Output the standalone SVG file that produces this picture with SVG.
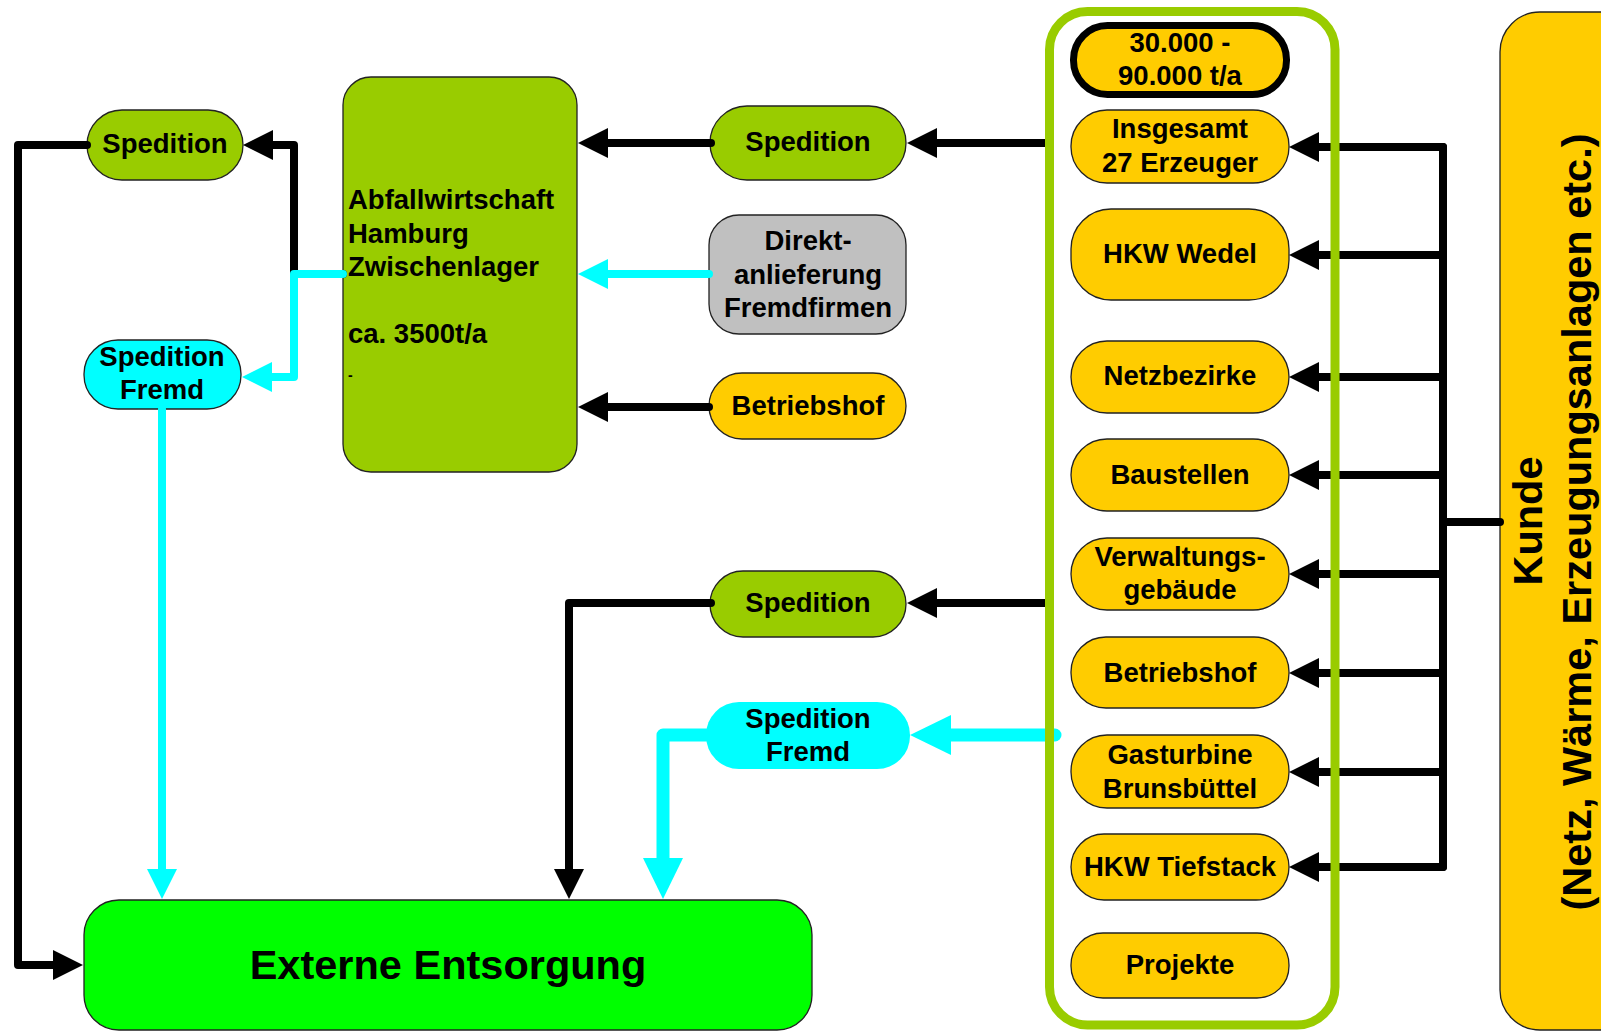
<svg xmlns="http://www.w3.org/2000/svg" width="1601" height="1031" viewBox="0 0 1601 1031">
<style>
text{font-family:"Liberation Sans",Arial,sans-serif;font-weight:bold;fill:#000;}
.t{font-size:27.5px;text-anchor:middle;}
.tl{font-size:27.5px;text-anchor:start;}
.big{font-size:41.5px;text-anchor:middle;}
.nb{stroke:#222;stroke-width:1.3;}
.green{fill:#99CC00;}
.orange{fill:#FFCC00;}
.cyan{fill:#00FFFF;}
.gray{fill:#C0C0C0;}
.lime{fill:#00FF00;}
.cb{fill:none;stroke:#000;stroke-width:8;stroke-linecap:round;stroke-linejoin:round;}
.cc{fill:none;stroke:#00FFFF;stroke-width:8;stroke-linecap:round;stroke-linejoin:round;}
.ccw{fill:none;stroke:#00FFFF;stroke-width:13;stroke-linecap:round;stroke-linejoin:round;}
</style>
<defs>
<marker id="ab" markerUnits="userSpaceOnUse" markerWidth="31" markerHeight="31" refX="0" refY="15" orient="auto" overflow="visible"><path d="M0,0 L30,15 L0,30 z" fill="#000"/></marker>
<marker id="ac" markerUnits="userSpaceOnUse" markerWidth="31" markerHeight="31" refX="0" refY="15" orient="auto" overflow="visible"><path d="M0,0 L30,15 L0,30 z" fill="#00FFFF"/></marker>
<marker id="acw" markerUnits="userSpaceOnUse" markerWidth="42" markerHeight="41" refX="0" refY="20" orient="auto" overflow="visible"><path d="M0,0 L41,20 L0,40 z" fill="#00FFFF"/></marker>
</defs>
<rect width="1601" height="1031" fill="#fff"/>

<g id="kunde">
<rect x="1500" y="12" width="170" height="1018" rx="40" class="orange nb"/>
<text class="big" transform="translate(1542,521) rotate(-90)">Kunde</text>
<text class="big" transform="translate(1591,522) rotate(-90)">(Netz, Wärme, Erzeugungsanlagen etc.)</text>
</g>

<g id="spedition-left">
<rect x="87" y="110" width="156" height="70" rx="35" class="green nb"/>
<text class="t" x="165" y="153">Spedition</text>
</g>
<g id="spedition-fremd-left">
<rect x="84" y="340" width="157" height="69" rx="34" class="cyan nb"/>
<text class="t" x="162" y="366">Spedition</text>
<text class="t" x="162" y="399">Fremd</text>
</g>
<g id="abfallwirtschaft">
<rect x="343" y="77" width="234" height="395" rx="28" class="green nb"/>
<text class="tl" x="348" y="209">Abfallwirtschaft</text>
<text class="tl" x="348" y="243">Hamburg</text>
<text class="tl" x="348" y="276">Zwischenlager</text>
<text class="tl" x="348" y="343">ca. 3500t/a</text>
<text x="348" y="380" style="font-size:14px">-</text>
</g>
<g id="spedition-mid">
<rect x="710" y="106" width="196" height="74" rx="37" class="green nb"/>
<text class="t" x="808" y="151">Spedition</text>
</g>
<g id="direkt">
<rect x="709" y="215" width="197" height="119" rx="30" class="gray nb"/>
<text class="t" x="808" y="250">Direkt-</text>
<text class="t" x="808" y="284">anlieferung</text>
<text class="t" x="808" y="317">Fremdfirmen</text>
</g>
<g id="betriebshof-mid">
<rect x="709" y="373" width="197" height="66" rx="33" class="orange nb"/>
<text class="t" x="808" y="415">Betriebshof</text>
</g>
<g id="spedition-lower">
<rect x="710" y="571" width="196" height="66" rx="33" class="green nb"/>
<text class="t" x="808" y="612">Spedition</text>
</g>
<g id="spedition-fremd-lower">
<rect x="706" y="702" width="204" height="67" rx="33" class="cyan"/>
<text class="t" x="808" y="728">Spedition</text>
<text class="t" x="808" y="761">Fremd</text>
</g>
<g id="externe">
<rect x="84" y="900" width="728" height="130" rx="35" class="lime nb"/>
<text class="big" x="448" y="979">Externe Entsorgung</text>
</g>

<g id="menge">
<rect x="1073.5" y="25.5" width="213" height="69" rx="34" class="orange" stroke="#000" stroke-width="7"/>
<text class="t" x="1180" y="52">30.000 -</text>
<text class="t" x="1180" y="85">90.000 t/a</text>
</g>
<g id="insgesamt">
<rect x="1071" y="110" width="218" height="73" rx="36" class="orange nb"/>
<text class="t" x="1180" y="138">Insgesamt</text>
<text class="t" x="1180" y="172">27 Erzeuger</text>
</g>
<g id="hkw-wedel">
<rect x="1071" y="209" width="218" height="91" rx="40" class="orange nb"/>
<text class="t" x="1180" y="263">HKW Wedel</text>
</g>
<g id="netzbezirke">
<rect x="1071" y="341" width="218" height="72" rx="36" class="orange nb"/>
<text class="t" x="1180" y="385">Netzbezirke</text>
</g>
<g id="baustellen">
<rect x="1071" y="439" width="218" height="72" rx="36" class="orange nb"/>
<text class="t" x="1180" y="484">Baustellen</text>
</g>
<g id="verwaltung">
<rect x="1071" y="538" width="218" height="72" rx="36" class="orange nb"/>
<text class="t" x="1180" y="566">Verwaltungs-</text>
<text class="t" x="1180" y="599">gebäude</text>
</g>
<g id="betriebshof-right">
<rect x="1071" y="637" width="218" height="71" rx="35" class="orange nb"/>
<text class="t" x="1180" y="682">Betriebshof</text>
</g>
<g id="gasturbine">
<rect x="1071" y="735" width="218" height="73" rx="36" class="orange nb"/>
<text class="t" x="1180" y="764">Gasturbine</text>
<text class="t" x="1180" y="798">Brunsbüttel</text>
</g>
<g id="hkw-tiefstack">
<rect x="1071" y="834" width="218" height="66" rx="33" class="orange nb"/>
<text class="t" x="1180" y="876">HKW Tiefstack</text>
</g>
<g id="projekte">
<rect x="1071" y="933" width="218" height="65" rx="32" class="orange nb"/>
<text class="t" x="1180" y="974">Projekte</text>
</g>

<g id="connectors">
<path class="cb" d="M87,145 H18 V965 H53" marker-end="url(#ab)"/>
<path class="cb" d="M343,274 H294 V145 H273" marker-end="url(#ab)"/>
<path class="cc" d="M343,274 H294 V377 H272" marker-end="url(#ac)"/>
<path class="cc" d="M162,409 V869" marker-end="url(#ac)"/>
<path class="cb" d="M711,143 H608" marker-end="url(#ab)"/>
<path class="cc" d="M709,274 H608" marker-end="url(#ac)"/>
<path class="cb" d="M709,407 H608" marker-end="url(#ab)"/>
<path class="cb" d="M1049,143 H937" marker-end="url(#ab)"/>
<path class="cb" d="M1050,603 H937" marker-end="url(#ab)"/>
<path class="cb" d="M711,603 H569 V869" marker-end="url(#ab)"/>
<path class="ccw" d="M1055,735 H951" marker-end="url(#acw)"/>
<path class="ccw" d="M706,735 H663 V858" marker-end="url(#acw)"/>
<path class="cb" d="M1443,147 V867"/>
<path class="cb" d="M1443,147 H1319" marker-end="url(#ab)"/>
<path class="cb" d="M1443,255 H1319" marker-end="url(#ab)"/>
<path class="cb" d="M1443,377 H1319" marker-end="url(#ab)"/>
<path class="cb" d="M1443,475 H1319" marker-end="url(#ab)"/>
<path class="cb" d="M1443,574 H1319" marker-end="url(#ab)"/>
<path class="cb" d="M1443,673 H1319" marker-end="url(#ab)"/>
<path class="cb" d="M1443,772 H1319" marker-end="url(#ab)"/>
<path class="cb" d="M1443,867 H1319" marker-end="url(#ab)"/>
<path class="cb" d="M1500,522 H1443"/>
</g>

<g id="erzeuger-rahmen">
<rect x="1049.5" y="11.5" width="285.5" height="1013.5" rx="38" fill="none" stroke="#99CC00" stroke-width="9"/>
</g>
</svg>
